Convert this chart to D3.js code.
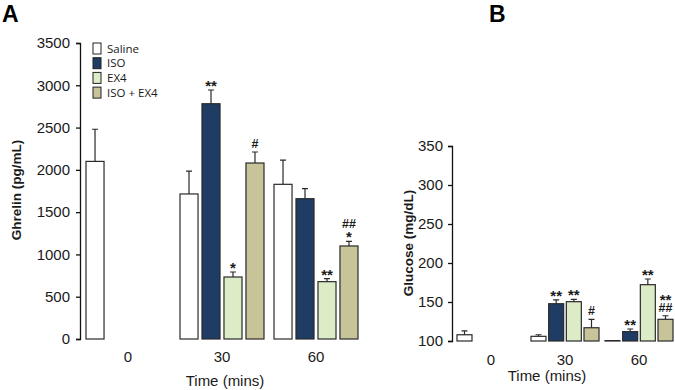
<!DOCTYPE html>
<html>
<head>
<meta charset="utf-8">
<script src="https://cdn.jsdelivr.net/npm/d3@7/dist/d3.min.js"></script>
<style>
  body { margin: 0; background: #fff; }
  text { font-family: Arial, "Liberation Sans", sans-serif; fill: #1a1a1a; }
  .axis path, .axis line { stroke: #111; stroke-width: 1.3; }
  .axis text { font-size: 15px; }
  .bar { stroke: #2a2a2a; stroke-width: 1.2; }
  .err { stroke: #2a2a2a; stroke-width: 1.2; fill: none; }
  .sig { font-weight: bold; }
  .legend text { font-family: "Open Sans", sans-serif; font-size: 11.5px; }
</style>
</head>
<body>
<svg id="chart"></svg>
<script>
//data to display
const groups = ['0', '30', '60'];
const series = ['Saline', 'ISO', 'EX4', 'ISO + EX4'];
const colors = ['#ffffff', '#1e3c64', '#dcecc6', '#c8c49a'];

// ghrelin (pg/mL), one array per series, values at 0 / 30 / 60 mins
const ghrelinSaline = [2100, 1715, 1829];
const ghrelinIso = [null, 2782, 1659];
const ghrelinEx4 = [null, 733, 678];
const ghrelinIsoEx4 = [null, 2081, 1100];
// error bar (sem)
const ghrelinSalineErr = [380, 271, 287];
const ghrelinIsoErr = [null, 162, 118];
const ghrelinEx4Err = [null, 59, 35];
const ghrelinIsoEx4Err = [null, 130, 55];
// significance marks, bottom line first
const ghrelinSig = [
  [[], [], []],
  [[], ['**'], []],
  [[], ['*'], ['**']],
  [[], ['#'], ['*', '##']]
];

// glucose (mg/dL)
const glucoseSaline = [108, 106, 100.5];
const glucoseIso = [null, 147.8, 112];
const glucoseEx4 = [null, 150.4, 172.2];
const glucoseIsoEx4 = [null, 117, 127.8];
const glucoseSalineErr = [5, 2, 0];
const glucoseIsoErr = [null, 4.8, 3.4];
const glucoseEx4Err = [null, 3, 7.3];
const glucoseIsoEx4Err = [null, 10.8, 4.6];
const glucoseSig = [
  [[], [], []],
  [[], ['**'], ['**']],
  [[], ['**'], ['**']],
  [[], ['#'], ['##', '**']]
];

const ghrelinTicks = [0, 500, 1000, 1500, 2000, 2500, 3000, 3500];
const glucoseTicks = [100, 150, 200, 250, 300, 350];

const width = 675;
const height = 390;

let svg = d3.select('#chart')
  .attr('width', width)
  .attr('height', height);

// turn the arrays into rows for the bars
function rows(values, errs, sig) {
  let out = [];
  series.forEach((s, si) => {
    groups.forEach((g, gi) => {
      if (values[si][gi] == null) return;
      out.push({ group: g, series: s, si: si, value: values[si][gi], err: errs[si][gi], sig: sig[si][gi] });
    });
  });
  return out;
}

function drawPanel(opt) {
  let g = svg.append('g');

  let x = d3.scaleBand()
    .domain(groups)
    .range(opt.xRange)
    .paddingInner(opt.groupPad)
    .paddingOuter(opt.groupPad / 2);
  let xIn = d3.scaleBand()
    .domain(series)
    .range([0, x.bandwidth()])
    .paddingInner(opt.barPad);
  let y = d3.scaleLinear()
    .domain(opt.domain)
    .range(opt.yRange);

  //y axis
  g.append('g')
    .attr('class', 'axis')
    .attr('transform', 'translate(' + opt.axisX + ',0)')
    .call(d3.axisLeft(y).tickValues(opt.ticks).tickFormat(d3.format('d'))
      .tickSize(4).tickSizeOuter(4).tickPadding(opt.tickPad));

  //x labels, no axis line
  g.append('g')
    .attr('class', 'axis')
    .attr('transform', 'translate(0,' + opt.yRange[0] + ')')
    .call(d3.axisBottom(x).tickSize(0).tickPadding(opt.xLabelPad))
    .call(a => a.select('.domain').remove());

  let data = rows(opt.values, opt.errs, opt.sig);
  let base = y(opt.domain[0]);

  g.selectAll('.bar')
    .data(data)
    .enter()
    .append('rect')
      .attr('class', 'bar')
      .attr('x', d => x(d.group) + xIn(d.series))
      .attr('width', xIn.bandwidth())
      .attr('y', d => y(d.value))
      .attr('height', d => base - y(d.value))
      .attr('fill', d => colors[d.si]);

  //error bars, upper half only
  let capW = 3;
  g.selectAll('.err')
    .data(data.filter(d => d.err))
    .enter()
    .append('path')
      .attr('class', 'err')
      .attr('d', d => {
        let cx = x(d.group) + xIn(d.series) + xIn.bandwidth() / 2;
        let y0 = y(d.value), y1 = y(d.value + d.err);
        return 'M' + cx + ',' + y0 + 'V' + y1 + 'M' + (cx - capW) + ',' + y1 + 'H' + (cx + capW);
      });

  //significance marks
  data.forEach(d => {
    let cx = x(d.group) + xIn(d.series) + xIn.bandwidth() / 2;
    let top = y(d.value + (d.err || 0));
    let c = top;
    d.sig.forEach((s, i) => {
      let hash = s.indexOf('#') >= 0;
      c = i == 0 ? top - (hash ? 9 : 7.5) : c - opt.sigStep;
      // put the glyph's visual centre on c
      let base = hash ? c + 4.8 : c + 8.4;
      g.append('text')
        .attr('class', 'sig')
        .attr('x', cx)
        .attr('y', base)
        .attr('text-anchor', 'middle')
        .style('font-size', hash ? '12.5px' : '15px')
        .text(s);
    });
  });

  //y title
  g.append('text')
    .attr('transform', 'translate(' + opt.titleX + ',' + opt.titleY + ') rotate(-90)')
    .attr('text-anchor', 'middle')
    .style('font-weight', 'bold')
    .style('font-size', '13.5px')
    .text(opt.title);

  //x title
  g.append('text')
    .attr('x', opt.xTitleX)
    .attr('y', opt.xTitleY)
    .attr('text-anchor', 'middle')
    .style('font-size', '15px')
    .text('Time (mins)');

  //panel letter
  g.append('text')
    .attr('x', opt.letterX)
    .attr('y', 21.5)
    .style('font-weight', 'bold')
    .style('font-size', '23px')
    .style('fill', '#000')
    .text(opt.letter);
}

drawPanel({
  letter: 'A', letterX: 2,
  values: [ghrelinSaline, ghrelinIso, ghrelinEx4, ghrelinIsoEx4],
  errs: [ghrelinSalineErr, ghrelinIsoErr, ghrelinEx4Err, ghrelinIsoEx4Err],
  sig: ghrelinSig,
  domain: [0, 3500], ticks: ghrelinTicks,
  yRange: [339, 43], xRange: [81, 363],
  groupPad: 10 / 94, barPad: 0.18,
  axisX: 80, tickPad: 6, xLabelPad: 12, sigStep: 11,
  title: 'Ghrelin (pg/mL)', titleX: 21, titleY: 190,
  xTitleX: 225, xTitleY: 386
});

drawPanel({
  letter: 'B', letterX: 489,
  values: [glucoseSaline, glucoseIso, glucoseEx4, glucoseIsoEx4],
  errs: [glucoseSalineErr, glucoseIsoErr, glucoseEx4Err, glucoseIsoEx4Err],
  sig: glucoseSig,
  domain: [100, 350], ticks: glucoseTicks,
  yRange: [341, 146], xRange: [454, 676],
  groupPad: 6 / 74, barPad: 0.151,
  axisX: 452, tickPad: 5, xLabelPad: 13, sigStep: 10,
  title: 'Glucose (mg/dL)', titleX: 413, titleY: 243,
  xTitleX: 547, xTitleY: 381
});

//legend
let legend = svg.append('g')
  .attr('class', 'legend')
  .attr('transform', 'translate(93,43)');
let item = legend.selectAll('g')
  .data(series)
  .enter()
  .append('g')
    .attr('transform', (d, i) => 'translate(0,' + i * 14.7 + ')');
item.append('rect')
  .attr('width', 8)
  .attr('height', 11)
  .attr('fill', (d, i) => colors[i])
  .attr('stroke', '#222')
  .attr('stroke-width', 1);
item.append('text')
  .attr('x', 14)
  .attr('y', 9.5)
  .text(d => d);
</script>
</body>
</html>
